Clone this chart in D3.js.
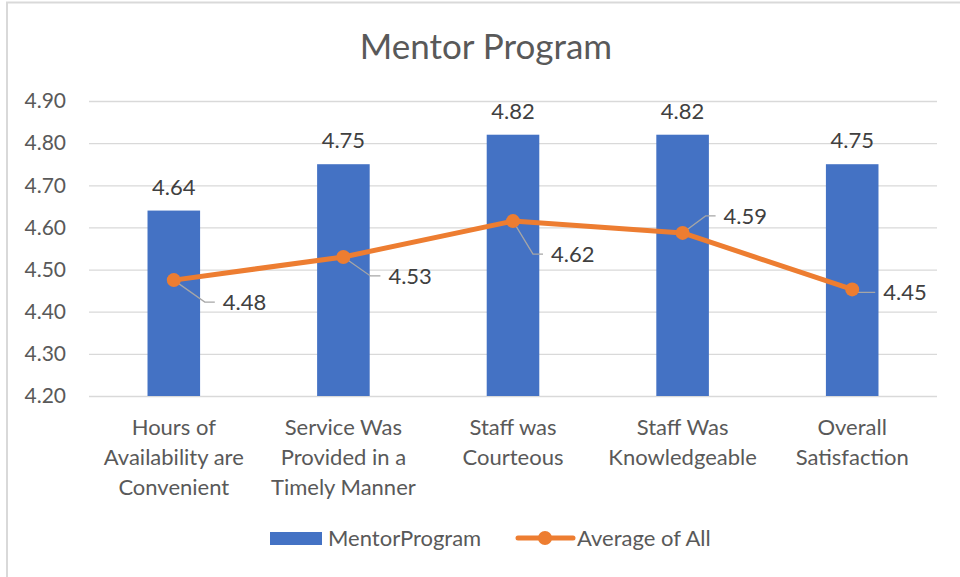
<!DOCTYPE html>
<html>
<head>
<meta charset="utf-8">
<script src="https://cdn.jsdelivr.net/npm/d3@7"></script>
<style>
  body { margin: 0; background: #fff; }
  text { font-family: Lato, "Open Sans", sans-serif; }
</style>
</head>
<body>
<svg id="chart"></svg>
<script>
const categories = [
  ["Hours of", "Availability are", "Convenient"],
  ["Service Was", "Provided in a", "Timely Manner"],
  ["Staff was", "Courteous"],
  ["Staff Was", "Knowledgeable"],
  ["Overall", "Satisfaction"]
];
const mentorValues = [4.64, 4.75, 4.82, 4.82, 4.75];
const averageValues = [4.475, 4.53, 4.615, 4.587, 4.453];
const yTicks = [4.2, 4.3, 4.4, 4.5, 4.6, 4.7, 4.8, 4.9];

// leader-line label placement for the line series (text dx, dy from point)
const labelOffsets = [[49, 22], [45, 19], [38, 33], [41, -17], [31, 3]];

const W = 960, H = 577;
const margin = {top: 101, right: 23, bottom: 181, left: 89},
      width = W - margin.left - margin.right,
      height = H - margin.top - margin.bottom;

const root = d3.select("#chart").attr("width", W).attr("height", H);

// chart border (top + left visible)
root.append("line").attr("x1", 6).attr("x2", W).attr("y1", 2.5).attr("y2", 2.5)
    .attr("stroke", "#d9d9d9").attr("stroke-width", 2);
root.append("line").attr("x1", 7).attr("x2", 7).attr("y1", 2).attr("y2", H)
    .attr("stroke", "#d9d9d9").attr("stroke-width", 2);

root.append("text")
    .attr("x", 486).attr("y", 59)
    .attr("text-anchor", "middle")
    .style("font-size", "35px")
    .attr("fill", "#595959")
    .text("Mentor Program");

const svg = root.append("g").attr("transform", `translate(${margin.left},${margin.top})`);

const x = d3.scaleBand().domain(d3.range(categories.length)).range([0, width]).padding(0);
const y = d3.scaleLinear().domain([4.2, 4.9]).range([height, 0]);

// gridlines
svg.append("g")
    .call(d3.axisLeft(y).tickValues(yTicks).tickSize(-width).tickFormat(""))
    .call(g => g.select(".domain").remove())
    .call(g => g.selectAll("line").attr("stroke", "#d9d9d9").attr("stroke-width", 1.3));

// y tick labels
svg.append("g")
    .call(d3.axisLeft(y).tickValues(yTicks).tickSize(0).tickPadding(23).tickFormat(d3.format(".2f")))
    .call(g => g.select(".domain").remove())
    .call(g => g.selectAll("text").attr("fill", "#595959").style("font-size", "21px"));

const barW = x.bandwidth() * 0.31;

svg.selectAll("rect.bar")
    .data(mentorValues)
    .enter().append("rect")
    .attr("class", "bar")
    .attr("x", (d, i) => x(i) + x.bandwidth() / 2 - barW / 2)
    .attr("y", d => y(d))
    .attr("width", barW)
    .attr("height", d => height - y(d))
    .attr("fill", "#4472c4");

svg.selectAll("text.barlabel")
    .data(mentorValues)
    .enter().append("text")
    .attr("class", "barlabel")
    .attr("x", (d, i) => x(i) + x.bandwidth() / 2)
    .attr("y", d => y(d) - 16)
    .attr("text-anchor", "middle")
    .attr("fill", "#404040")
    .style("font-size", "22px")
    .text(d => d.toFixed(2));

// x category labels
const cat = svg.append("g").selectAll("text")
    .data(categories)
    .enter().append("text")
    .attr("x", (d, i) => x(i) + x.bandwidth() / 2)
    .attr("y", height + 39)
    .attr("text-anchor", "middle")
    .attr("fill", "#595959")
    .style("font-size", "22px");
cat.selectAll("tspan")
    .data(d => d)
    .enter().append("tspan")
    .attr("x", function () { return d3.select(this.parentNode).attr("x"); })
    .attr("dy", (d, i) => i === 0 ? 0 : 30)
    .text(d => d);

// average line
const line = d3.line()
    .x((d, i) => x(i) + x.bandwidth() / 2)
    .y(d => y(d));

// leader lines
averageValues.forEach((v, i) => {
  const px = x(i) + x.bandwidth() / 2, py = y(v);
  const [dx, dy] = labelOffsets[i];
  const ex = px + dx - 8, ey = py + dy;
  const bx = Math.abs(dy) > 8 ? ex - 10 : px;
  svg.append("polyline")
      .attr("points", `${px},${py} ${bx},${ey} ${ex},${ey}`)
      .attr("fill", "none")
      .attr("stroke", "#a6a6a6")
      .attr("stroke-width", 1.3);
});

svg.append("path")
    .datum(averageValues)
    .attr("d", line)
    .attr("fill", "none")
    .attr("stroke", "#ed7d31")
    .attr("stroke-width", 5)
    .attr("stroke-linejoin", "round");

svg.selectAll("circle.pt")
    .data(averageValues)
    .enter().append("circle")
    .attr("class", "pt")
    .attr("cx", (d, i) => x(i) + x.bandwidth() / 2)
    .attr("cy", d => y(d))
    .attr("r", 7)
    .attr("fill", "#ed7d31");

svg.selectAll("text.avglabel")
    .data(averageValues)
    .enter().append("text")
    .attr("class", "avglabel")
    .attr("x", (d, i) => x(i) + x.bandwidth() / 2 + labelOffsets[i][0])
    .attr("y", (d, i) => y(d) + labelOffsets[i][1])
    .attr("dy", "0.35em")
    .attr("fill", "#404040")
    .style("font-size", "22px")
    .text(d => (Math.round(d * 100 + 1e-6) / 100).toFixed(2));

// legend
const legend = root.append("g");
legend.append("rect")
    .attr("x", 270).attr("y", 532).attr("width", 52).attr("height", 13)
    .attr("fill", "#4472c4");
legend.append("text")
    .attr("x", 328).attr("y", 538).attr("dy", "0.35em")
    .attr("fill", "#595959").style("font-size", "22px")
    .text("MentorProgram");
legend.append("line")
    .attr("x1", 518).attr("x2", 573).attr("y1", 538).attr("y2", 538)
    .attr("stroke", "#ed7d31").attr("stroke-width", 5).attr("stroke-linecap", "round");
legend.append("circle")
    .attr("cx", 545).attr("cy", 538).attr("r", 7).attr("fill", "#ed7d31");
legend.append("text")
    .attr("x", 577).attr("y", 538).attr("dy", "0.35em")
    .attr("fill", "#595959").style("font-size", "22px")
    .text("Average of All");
</script>
</body>
</html>
